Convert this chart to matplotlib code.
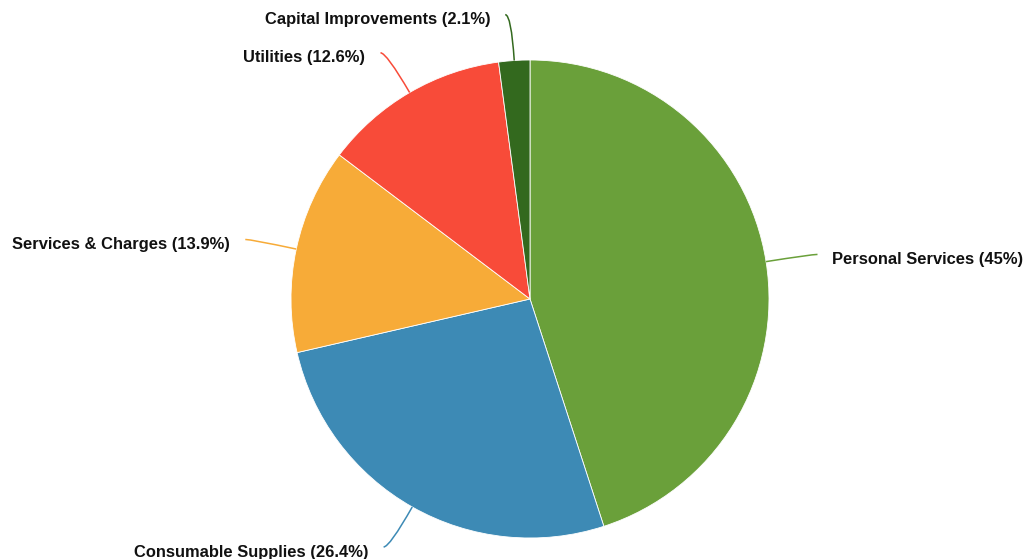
import numpy as np
import matplotlib.pyplot as plt
from matplotlib.patches import Wedge, PathPatch
from matplotlib.path import Path

# budget shares by category
categories = ['Personal Services', 'Consumable Supplies', 'Services & Charges',
              'Utilities', 'Capital Improvements']
shares = [45.0, 26.4, 13.9, 12.6, 2.1]
label_pct = ['45%', '26.4%', '13.9%', '12.6%', '2.1%']
colors = ['#6aa03a', '#3d8ab5', '#f7ab38', '#f84b39', '#33691e']

plt.rcParams['font.family'] = ['Liberation Sans', 'DejaVu Sans']

fig = plt.figure(figsize=(10.26, 5.59), dpi=100)
ax = fig.add_axes([0, 0, 1, 1])
ax.set_xlim(0, 1026)
ax.set_ylim(559, 0)
ax.set_aspect('equal')
ax.axis('off')

cx, cy, r = 530, 299, 239
total = sum(shares)
start = 90.0
for name, val, pct, col in zip(categories, shares, label_pct, colors):
    sweep = val / total * 360.0
    end = start - sweep
    # y axis points down, so flip the angles
    ax.add_patch(Wedge((cx, cy), r, -start, -end, facecolor=col,
                       edgecolor='white', linewidth=0.6))
    mid = np.radians(start - sweep / 2)
    dx, dy = np.cos(mid), -np.sin(mid)
    side = 1 if dx >= 0 else -1
    # leader: radial out from the rim, then a short hook towards the label
    p0 = (cx + r * dx, cy + r * dy)
    p1 = (cx + (r + 46) * dx, cy + (r + 46) * dy)
    p2 = (p1[0] + side * 6, p1[1])
    path = Path([p0, p1, p2], [Path.MOVETO, Path.CURVE3, Path.CURVE3])
    ax.add_patch(PathPatch(path, facecolor='none', edgecolor=col, linewidth=1.1))
    ax.text(p2[0] + side * 15, p2[1] + 5, f'{name} ({pct})',
            ha='left' if side > 0 else 'right', va='center',
            fontsize=11.9, fontweight='bold', color='#111111')
    start = end

fig.savefig('out.png', dpi=100)
